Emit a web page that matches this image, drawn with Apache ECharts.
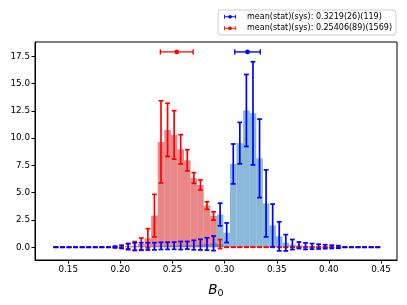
<!DOCTYPE html>
<html>
<head>
<meta charset="utf-8">
<script src="https://cdn.jsdelivr.net/npm/echarts@6/dist/echarts.min.js"></script>
<style>
html,body{margin:0;padding:0;background:#fff;}
#chart{width:407px;height:305px;}
</style>
</head>
<body>
<div id="chart"></div>
<script>
// Histogram binning (shared by both samples)
const binStart = 0.135;
const binWidth = 0.0063;
const nBins = 50;

// Blue sample: bin heights and their errors
const blueValues = [
  0,0,0,0,0,0,0,0,0,0.02,
  0.04,0.05,0.06,0.07,0.08,0.09,0.12,0.13,0.14,0.16,
  0.18,0.2,0.24,0.3,0.36,3.0,1.33,7.64,9.55,12.54,
  12.28,8.15,4.02,2.0,1.0,0.41,0.25,0.18,0.1,0.08,
  0.06,0.05,0.04,0.03,0,0,0,0,0,0
];
const blueErrors = [
  0,0,0,0,0,0,0,0,0,0.08,
  0.15,0.27,0.35,0.35,0.33,0.33,0.33,0.33,0.33,0.37,
  0.35,0.43,0.49,0.57,0.67,1.04,0.9,1.83,1.9,3.3,
  4.73,3.6,3.07,1.96,1.33,0.75,0.46,0.3,0.3,0.26,
  0.22,0.18,0.15,0.12,0,0,0,0,0,0
];

// Red sample: bin heights and their errors
const redValues = [
  0,0,0,0,0,0,0,0,0,0,
  0,0.1,0.12,0.3,0.82,2.9,9.66,10.76,10.3,8.98,
  7.97,6.35,5.71,3.82,2.87,0.29,0,0,0,0,
  0,0,0,0,0,0,0,0,0,0,
  0,0,0,0,0,0,0,0,0,0
];
const redErrors = [
  0,0,0,0,0,0,0,0,0,0,
  0,0.25,0.4,0.55,0.88,1.95,3.77,2.44,2.22,1.34,
  0.97,0.49,0.46,0.35,0.38,0.41,0,0,0,0,
  0,0,0,0,0,0,0,0,0,0,
  0,0,0,0,0,0,0,0,0,0
];

// Means with total (stat+sys) errors
const meanLabels = ['mean(stat)(sys): 0.3219(26)(119)', 'mean(stat)(sys): 0.25406(89)(1569)'];
const meanValues = [0.3219, 0.25406];
const meanErrors = [0.0122, 0.0157];
const meanHeight = 17.91;

// Tick labels
const xTicks = [0.15, 0.20, 0.25, 0.30, 0.35, 0.40, 0.45];
const yTicks = [0, 2.5, 5, 7.5, 10, 12.5, 15, 17.5];

const FONT = 'DejaVu Sans';
const BLUE = '#0000ff', RED = '#ff0000';
const BLUE_FILL = 'rgba(31,119,180,0.52)', RED_FILL = 'rgba(214,39,40,0.55)';

const centers = [];
for (let i = 0; i < nBins; i++) centers.push(binStart + (i + 0.5) * binWidth);

function histData(vals) { return vals.map((v, i) => [centers[i], v]); }
function errData(vals, errs) { return vals.map((v, i) => [centers[i], v, errs[i]]); }

function barRender(fill) {
  return function (params, api) {
    const c = api.value(0), h = api.value(1);
    if (!h) return null;
    const p0 = api.coord([c - binWidth / 2, 0]);
    const p1 = api.coord([c + binWidth / 2, h]);
    return {
      type: 'rect',
      shape: { x: p0[0], y: p1[1], width: p1[0] - p0[0], height: p0[1] - p1[1] },
      style: { fill: fill }
    };
  };
}

function errRender(color) {
  return function (params, api) {
    const c = api.value(0), v = api.value(1), e = api.value(2);
    const t = api.coord([c, v + e]);
    const b = api.coord([c, v - e]);
    const cw = 2.4, lw = 1.7;
    return {
      type: 'group',
      children: [
        { type: 'line', shape: { x1: t[0], y1: t[1], x2: b[0], y2: b[1] }, style: { stroke: color, lineWidth: lw } },
        { type: 'line', shape: { x1: t[0] - cw, y1: t[1], x2: t[0] + cw, y2: t[1] }, style: { stroke: color, lineWidth: lw } },
        { type: 'line', shape: { x1: b[0] - cw, y1: b[1], x2: b[0] + cw, y2: b[1] }, style: { stroke: color, lineWidth: lw } }
      ]
    };
  };
}

function meanRender(color) {
  return function (params, api) {
    const m = api.value(0), y = api.value(1), e = api.value(2);
    const l = api.coord([m - e, y]);
    const r = api.coord([m + e, y]);
    const c = api.coord([m, y]);
    const ch = 2.6, lw = 1.4;
    return {
      type: 'group',
      children: [
        { type: 'line', shape: { x1: l[0], y1: l[1], x2: r[0], y2: r[1] }, style: { stroke: color, lineWidth: lw } },
        { type: 'line', shape: { x1: l[0], y1: l[1] - ch, x2: l[0], y2: l[1] + ch }, style: { stroke: color, lineWidth: lw } },
        { type: 'line', shape: { x1: r[0], y1: r[1] - ch, x2: r[0], y2: r[1] + ch }, style: { stroke: color, lineWidth: lw } },
        { type: 'circle', shape: { cx: c[0], cy: c[1], r: 2.3 }, style: { fill: color } }
      ]
    };
  };
}

const ICON = 'path://M0,3.4 L18,3.4 L18,4.6 L0,4.6 Z M0,1 L1.3,1 L1.3,7 L0,7 Z M16.7,1 L18,1 L18,7 L16.7,7 Z M6.2,4 A2.8,2.8 0 1 1 11.8,4 A2.8,2.8 0 1 1 6.2,4 Z';

const chart = echarts.init(document.getElementById('chart'), null, { renderer: 'canvas' });
chart.setOption({
  animation: false,
  backgroundColor: '#fff',
  textStyle: { fontFamily: FONT },
  grid: { left: 35, right: 10, top: 42, bottom: 45, show: true, borderColor: '#000', borderWidth: 1, backgroundColor: 'transparent' },
  legend: {
    orient: 'vertical',
    right: 11,
    top: 10,
    itemWidth: 12,
    itemHeight: 5,
    itemGap: 2,
    padding: [2, 4, 2, 6],
    borderColor: '#cccccc',
    borderWidth: 1,
    borderRadius: 3,
    backgroundColor: 'rgba(255,255,255,0.8)',
    textStyle: { fontFamily: FONT, fontSize: 8, color: '#000', lineHeight: 9.5, padding: [0, 0, 0, 6] },
    data: [
      { name: meanLabels[0], icon: ICON },
      { name: meanLabels[1], icon: ICON }
    ]
  },
  xAxis: {
    type: 'value',
    min: 0.1181,
    max: 0.4653,
    splitLine: { show: false },
    axisLine: { show: true, onZero: false, lineStyle: { color: '#000', width: 1 } },
    axisTick: { show: true, length: 3.5, lineStyle: { color: '#000' }, customValues: xTicks },
    axisLabel: { customValues: xTicks, color: '#000', fontSize: 8.8, fontFamily: FONT, margin: 5, formatter: v => v.toFixed(2) },
    name: '{b|B}{s|0}',
    nameLocation: 'middle',
    nameGap: 22,
    nameTextStyle: {
      rich: {
        b: { fontFamily: FONT, fontStyle: 'italic', fontSize: 13.5, color: '#000' },
        s: { fontFamily: FONT, fontSize: 9.5, color: '#000', padding: [7, 0, 0, 0] }
      }
    }
  },
  yAxis: {
    type: 'value',
    min: -1.17,
    max: 18.82,
    splitLine: { show: false },
    axisLine: { show: true, onZero: false, lineStyle: { color: '#000', width: 1 } },
    axisTick: { show: true, length: 3.5, lineStyle: { color: '#000' }, customValues: yTicks },
    axisLabel: { customValues: yTicks, color: '#000', fontSize: 8.8, fontFamily: FONT, margin: 5, formatter: v => v.toFixed(1) }
  },
  series: [
    { type: 'custom', name: 'red hist', data: histData(redValues), renderItem: barRender(RED_FILL), encode: { x: 0, y: 1 }, silent: true },
    { type: 'custom', name: 'blue hist', data: histData(blueValues), renderItem: barRender(BLUE_FILL), encode: { x: 0, y: 1 }, silent: true },
    { type: 'custom', name: 'red err', data: errData(redValues, redErrors), renderItem: errRender(RED), encode: { x: 0, y: 1 }, silent: true },
    { type: 'custom', name: 'blue err', data: errData(blueValues, blueErrors), renderItem: errRender(BLUE), encode: { x: 0, y: 1 }, silent: true },
    { type: 'custom', name: meanLabels[0], itemStyle: { color: BLUE }, data: [[meanValues[0], meanHeight, meanErrors[0]]], renderItem: meanRender(BLUE), encode: { x: 0, y: 1 }, silent: true },
    { type: 'custom', name: meanLabels[1], itemStyle: { color: RED }, data: [[meanValues[1], meanHeight, meanErrors[1]]], renderItem: meanRender(RED), encode: { x: 0, y: 1 }, silent: true }
  ]
});
</script>
</body>
</html>
